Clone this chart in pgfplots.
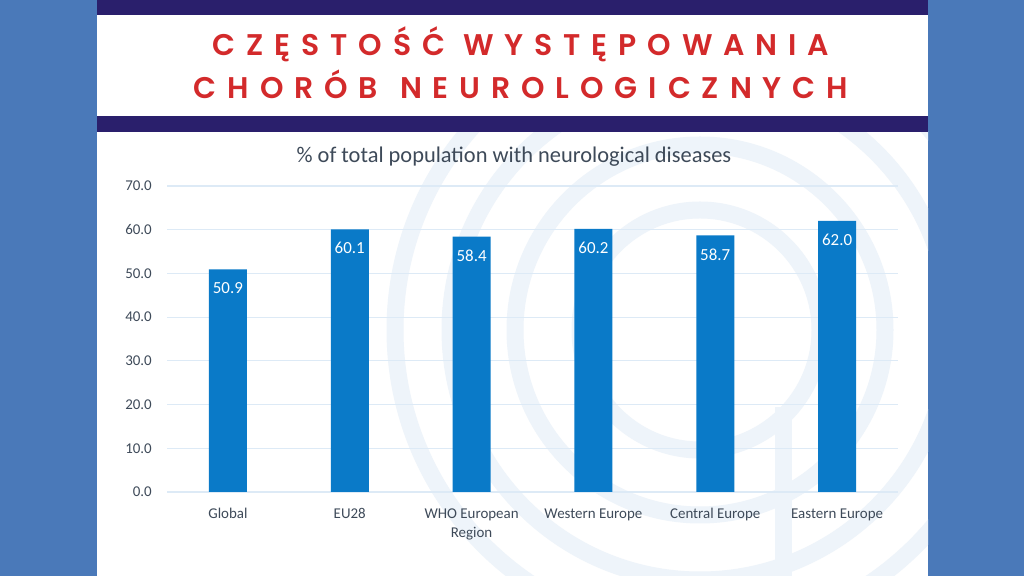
\documentclass[border=0pt]{standalone}
\usepackage{pgfplots}
\pgfplotsset{compat=1.18}
\usepackage{fontspec}
\setmainfont{Carlito}
\newfontfamily\titlefont[LetterSpace=36.5, BoldFont={Poppins SemiBold}]{Poppins}

\definecolor{pagebg}{HTML}{4A79B9}
\definecolor{navy}{HTML}{2A1F6C}
\definecolor{titlered}{HTML}{D32A2B}
\definecolor{barblue}{HTML}{0A7AC8}
\definecolor{gridc}{HTML}{DDEAF6}
\definecolor{textc}{HTML}{3E4A59}
\definecolor{wm}{HTML}{EEF4FA}

% keeps every category label on the same baseline
\newcommand\lbl[1]{\vphantom{l}#1}

\pgfplotstableread{
idx value
0 50.9
1 60.1
2 58.4
3 60.2
4 58.7
5 62.0
}\prevalence

\begin{document}
\begin{tikzpicture}[x=1bp,y=1bp]
% page background and white panel
\fill[pagebg] (0,0) rectangle (1024,576);
\fill[white] (97,0) rectangle (928,576);

% faint spiral logo behind the chart
\begin{scope}
  \clip (97,0) rectangle (928,444);
  \foreach \r in {120,185,250,305}
    \draw[wm, line width=17bp] (700,246) circle (\r);
  \draw[wm, line width=17bp] (783,169) -- (783,-5);
\end{scope}

% header bands
\fill[navy] (97,561) rectangle (928,576);
\fill[navy] (97,444) rectangle (928,460);

% header title
\node[anchor=base, inner sep=0pt, text=titlered,
      font=\titlefont\bfseries\fontsize{30}{30}\selectfont]
  at (521,520) {CZĘSTOŚĆ\hspace{18bp}WYSTĘPOWANIA};
\node[anchor=base, inner sep=0pt, text=titlered,
      font=\titlefont\bfseries\fontsize{30}{30}\selectfont]
  at (521,477) {CHORÓB\hspace{22bp}NEUROLOGICZNYCH};

% chart title
\node[anchor=base, inner sep=0pt, text=textc, font=\fontsize{22.5}{22.5}\selectfont]
  at (514,413) {\% of total population with neurological diseases};

\begin{axis}[
  at={(167bp,84bp)}, anchor=south west,
  scale only axis, width=731bp, height=306bp,
  xmin=-0.5, xmax=5.5, ymin=0, ymax=70,
  axis line style={draw=none},
  major tick length=0pt,
  ymajorgrids, grid style={gridc, line width=1.2bp},
  ytick={0,10,...,70},
  yticklabel style={inner sep=0pt, xshift=-15bp, text=textc,
                    font=\fontsize{15}{15}\selectfont},
  /pgf/number format/.cd, fixed, fixed zerofill, precision=1, assume math mode=true,
  /pgfplots/.cd,
  xtick=data,
  xticklabels={\lbl{Global}, \lbl{EU28}, {\lbl{WHO European}\\Region},
               \lbl{Western Europe}, \lbl{Central Europe}, \lbl{Eastern Europe}},
  xticklabel style={align=center, anchor=north, inner sep=0pt, yshift=-16bp, text=textc,
                    font=\fontsize{15}{19}\selectfont},
  ybar, bar width=38bp,
  nodes near coords,
  nodes near coords style={anchor=north, inner sep=0pt, yshift=-13bp, text=white,
                           font=\fontsize{17}{17}\selectfont},
]
\addplot[fill=barblue, draw=none] table[x=idx, y=value] {\prevalence};
\end{axis}
\end{tikzpicture}
\end{document}
